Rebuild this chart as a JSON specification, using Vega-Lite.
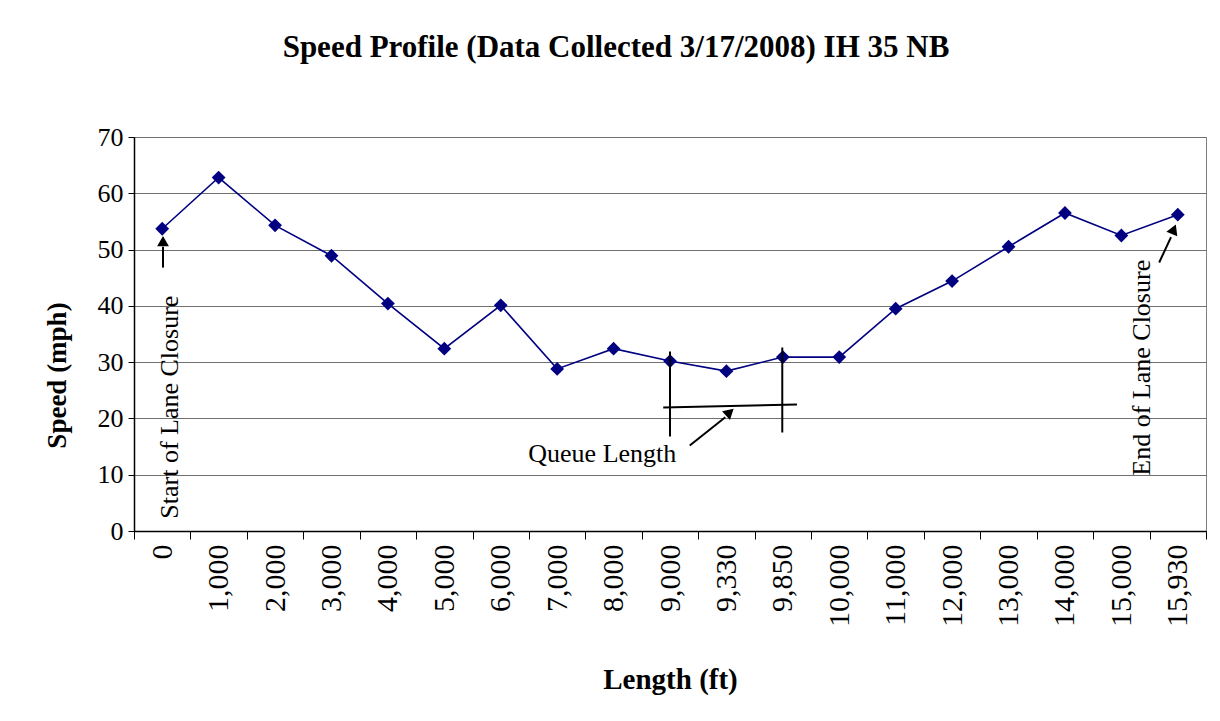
{
  "$schema": "https://vega.github.io/schema/vega-lite/v6.json",
  "width": 1072,
  "height": 394,
  "autosize": {"type": "none"},
  "padding": {"left": 134, "top": 137, "right": 14, "bottom": 190},
  "background": "white",
  "title": {
    "text": "Speed Profile (Data Collected 3/17/2008) IH 35 NB",
    "font": "Liberation Serif",
    "fontSize": 31,
    "fontWeight": "bold",
    "color": "black",
    "anchor": "middle",
    "dx": -54,
    "offset": 60
  },
  "config": {
    "view": {"stroke": "#808080", "strokeWidth": 1},
    "axis": {
      "labelFont": "Liberation Serif",
      "titleFont": "Liberation Serif",
      "labelColor": "black",
      "titleColor": "black",
      "domainColor": "black",
      "tickColor": "black"
    }
  },
  "data": {
    "values": [
      {"length": "0", "speed": 53.7},
      {"length": "1,000", "speed": 62.8},
      {"length": "2,000", "speed": 54.3},
      {"length": "3,000", "speed": 48.9},
      {"length": "4,000", "speed": 40.4},
      {"length": "5,000", "speed": 32.4},
      {"length": "6,000", "speed": 40.1},
      {"length": "7,000", "speed": 28.8},
      {"length": "8,000", "speed": 32.4},
      {"length": "9,000", "speed": 30.2},
      {"length": "9,330", "speed": 28.4},
      {"length": "9,850", "speed": 30.9},
      {"length": "10,000", "speed": 30.9},
      {"length": "11,000", "speed": 39.5},
      {"length": "12,000", "speed": 44.4},
      {"length": "13,000", "speed": 50.5},
      {"length": "14,000", "speed": 56.5},
      {"length": "15,000", "speed": 52.5},
      {"length": "15,930", "speed": 56.2}
    ]
  },
  "resolve": {"scale": {"x": "independent", "y": "independent"}},
  "layer": [
    {
      "encoding": {
        "x": {
          "field": "length",
          "type": "ordinal",
          "sort": null,
          "scale": {"type": "band", "paddingInner": 0, "paddingOuter": 0},
          "axis": {
            "title": "Length (ft)",
            "titleFontSize": 29,
            "titleFontWeight": "bold",
            "titlePadding": 39,
            "labelAngle": 270,
            "labelFontSize": 30,
            "labelPadding": 5,
            "tickBand": "extent",
            "tickSize": 8,
            "grid": false,
            "domainWidth": 1.5
          }
        },
        "y": {
          "field": "speed",
          "type": "quantitative",
          "scale": {"domain": [0, 70], "nice": false},
          "axis": {
            "title": "Speed (mph)",
            "titleFontSize": 27,
            "titleFontWeight": "bold",
            "titlePadding": 26,
            "titleY": 238,
            "values": [0, 10, 20, 30, 40, 50, 60, 70],
            "labelFontSize": 26,
            "labelPadding": 5,
            "tickSize": 6,
            "grid": true,
            "gridColor": "#707070",
            "gridWidth": 1.2,
            "domainWidth": 1.5
          }
        }
      },
      "layer": [
        {"mark": {"type": "line", "color": "#000080", "strokeWidth": 1.6}},
        {"mark": {"type": "point", "shape": "diamond", "filled": true, "color": "#000080", "size": 190, "opacity": 1}}
      ]
    },
    {
      "data": {"values": [{}]},
      "layer": [
        {
          "mark": {"type": "rule", "color": "black", "strokeWidth": 2},
          "encoding": {
            "x": {"datum": 0.514, "type": "quantitative", "scale": {"domain": [0, 19], "nice": false, "zero": false}, "axis": null},
            "y": {"datum": 46.8, "type": "quantitative", "scale": {"domain": [0, 70], "nice": false}, "axis": null},
            "y2": {"datum": 50.5}
          }
        },
        {
          "mark": {"type": "point", "shape": "triangle-up", "filled": true, "color": "black", "size": 140, "opacity": 1},
          "encoding": {
            "x": {"datum": 0.514, "type": "quantitative", "scale": {"domain": [0, 19], "nice": false, "zero": false}, "axis": null},
            "y": {"datum": 51.5, "type": "quantitative", "scale": {"domain": [0, 70], "nice": false}, "axis": null}
          }
        },
        {
          "mark": {"type": "text", "angle": 270, "font": "Liberation Serif", "fontSize": 26, "color": "black", "align": "center", "baseline": "middle"},
          "encoding": {
            "x": {"datum": 0.64, "type": "quantitative", "scale": {"domain": [0, 19], "nice": false, "zero": false}, "axis": null},
            "y": {"datum": 22.0, "type": "quantitative", "scale": {"domain": [0, 70], "nice": false}, "axis": null},
            "text": {"value": "Start of Lane Closure"}
          }
        },
        {
          "mark": {"type": "text", "angle": 270, "font": "Liberation Serif", "fontSize": 26, "color": "black", "align": "center", "baseline": "middle"},
          "encoding": {
            "x": {"datum": 17.87, "type": "quantitative", "scale": {"domain": [0, 19], "nice": false, "zero": false}, "axis": null},
            "y": {"datum": 29.0, "type": "quantitative", "scale": {"domain": [0, 70], "nice": false}, "axis": null},
            "text": {"value": "End of Lane Closure"}
          }
        },
        {
          "mark": {"type": "rule", "color": "black", "strokeWidth": 2},
          "encoding": {
            "x": {"datum": 18.17, "type": "quantitative", "scale": {"domain": [0, 19], "nice": false, "zero": false}, "axis": null},
            "x2": {"datum": 18.38},
            "y": {"datum": 47.7, "type": "quantitative", "scale": {"domain": [0, 70], "nice": false}, "axis": null},
            "y2": {"datum": 52.2}
          }
        },
        {
          "mark": {"type": "point", "shape": "triangle-up", "filled": true, "color": "black", "size": 140, "opacity": 1, "angle": 23},
          "encoding": {
            "x": {"datum": 18.43, "type": "quantitative", "scale": {"domain": [0, 19], "nice": false, "zero": false}, "axis": null},
            "y": {"datum": 53.6, "type": "quantitative", "scale": {"domain": [0, 70], "nice": false}, "axis": null}
          }
        },
        {
          "mark": {"type": "rule", "color": "black", "strokeWidth": 2},
          "encoding": {
            "x": {"datum": 9.5, "type": "quantitative", "scale": {"domain": [0, 19], "nice": false, "zero": false}, "axis": null},
            "y": {"datum": 31.9, "type": "quantitative", "scale": {"domain": [0, 70], "nice": false}, "axis": null},
            "y2": {"datum": 16.8}
          }
        },
        {
          "mark": {"type": "rule", "color": "black", "strokeWidth": 2},
          "encoding": {
            "x": {"datum": 11.49, "type": "quantitative", "scale": {"domain": [0, 19], "nice": false, "zero": false}, "axis": null},
            "y": {"datum": 32.6, "type": "quantitative", "scale": {"domain": [0, 70], "nice": false}, "axis": null},
            "y2": {"datum": 17.5}
          }
        },
        {
          "mark": {"type": "rule", "color": "black", "strokeWidth": 2},
          "encoding": {
            "x": {"datum": 9.38, "type": "quantitative", "scale": {"domain": [0, 19], "nice": false, "zero": false}, "axis": null},
            "x2": {"datum": 11.75},
            "y": {"datum": 21.94, "type": "quantitative", "scale": {"domain": [0, 70], "nice": false}, "axis": null},
            "y2": {"datum": 22.47}
          }
        },
        {
          "mark": {"type": "rule", "color": "black", "strokeWidth": 2},
          "encoding": {
            "x": {"datum": 9.85, "type": "quantitative", "scale": {"domain": [0, 19], "nice": false, "zero": false}, "axis": null},
            "x2": {"datum": 10.48},
            "y": {"datum": 15.19, "type": "quantitative", "scale": {"domain": [0, 70], "nice": false}, "axis": null},
            "y2": {"datum": 20.2}
          }
        },
        {
          "mark": {"type": "point", "shape": "triangle-up", "filled": true, "color": "black", "size": 140, "opacity": 1, "angle": 48},
          "encoding": {
            "x": {"datum": 10.56, "type": "quantitative", "scale": {"domain": [0, 19], "nice": false, "zero": false}, "axis": null},
            "y": {"datum": 21.1, "type": "quantitative", "scale": {"domain": [0, 70], "nice": false}, "axis": null}
          }
        },
        {
          "mark": {"type": "text", "font": "Liberation Serif", "fontSize": 26, "color": "black", "align": "center", "baseline": "middle"},
          "encoding": {
            "x": {"datum": 8.3, "type": "quantitative", "scale": {"domain": [0, 19], "nice": false, "zero": false}, "axis": null},
            "y": {"datum": 13.6, "type": "quantitative", "scale": {"domain": [0, 70], "nice": false}, "axis": null},
            "text": {"value": "Queue Length"}
          }
        }
      ]
    }
  ]
}
